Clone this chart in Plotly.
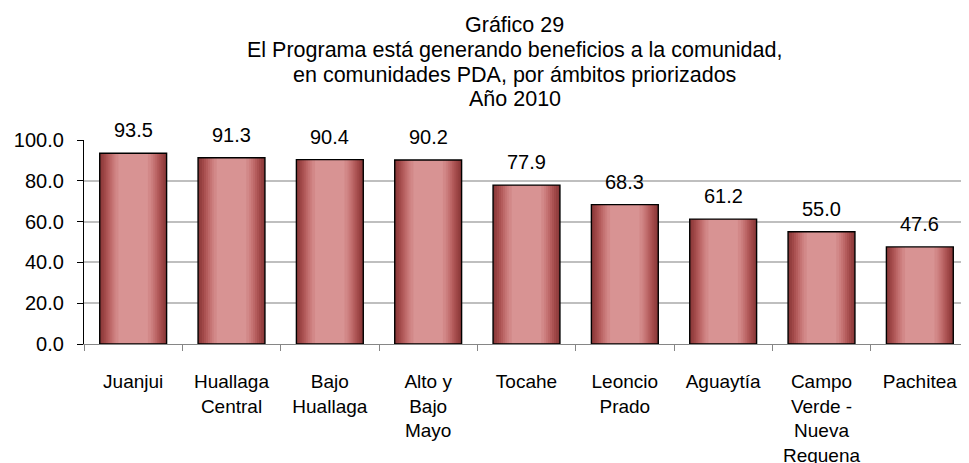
import plotly.graph_objects as go

categories = ["Juanjui", "Huallaga<br>Central", "Bajo<br>Huallaga", "Alto y<br>Bajo<br>Mayo",
              "Tocahe", "Leoncio<br>Prado", "Aguaytía", "Campo<br>Verde -<br>Nueva<br>Requena", "Pachitea"]
values = [93.5, 91.3, 90.4, 90.2, 77.9, 68.3, 61.2, 55.0, 47.6]
y_ticks = [0, 20, 40, 60, 80, 100]
title_lines = ["Gráfico 29",
               "El Programa está generando beneficios a la comunidad,",
               "en comunidades PDA, por ámbitos priorizados",
               "Año 2010"]

# layered bars to imitate the horizontal gradient of the original
layers = [
    (0.68, "#8B3A3A"),
    (0.64, "#954040"),
    (0.60, "#A04848"),
    (0.56, "#AA5252"),
    (0.52, "#B45C5C"),
    (0.48, "#BD6868"),
    (0.44, "#C57373"),
    (0.40, "#CC7E7E"),
    (0.36, "#D28888"),
    (0.30, "#D89393"),
]

fig = go.Figure()
for w, c in layers:
    fig.add_trace(go.Bar(x=categories, y=values, width=w, marker=dict(color=c, line=dict(width=0)),
                         hoverinfo="skip", showlegend=False))
fig.add_trace(go.Bar(x=categories, y=values, width=0.68,
                     marker=dict(color="rgba(0,0,0,0)", line=dict(color="black", width=1.4)),
                     showlegend=False))

annotations = []
for c, v in zip(categories, values):
    annotations.append(dict(x=c, y=v, xref="x", yref="y", text=f"{v:.1f}", showarrow=False,
                            yanchor="middle", yshift=23, font=dict(size=20, color="black")))
title_y = [1.565, 1.4425, 1.320, 1.203]
for t, ty in zip(title_lines, title_y):
    annotations.append(dict(x=0.487, y=ty, xref="paper", yref="paper", text=t, showarrow=False,
                            xanchor="center", yanchor="middle", font=dict(size=21.5, color="black")))

fig.update_layout(
    barmode="overlay",
    width=969, height=463,
    margin=dict(l=76, r=8, t=131.5, b=127),
    paper_bgcolor="white", plot_bgcolor="white",
    font=dict(family="Liberation Sans, Arial, sans-serif", color="black"),
    annotations=annotations,
)
fig.update_yaxes(range=[0, 100], tickvals=y_ticks, tickformat=".1f", showgrid=True, gridcolor="#BFBFBF",
                 gridwidth=1.6, showline=True, linecolor="black", linewidth=1.3, ticks="outside", ticklen=6,
                 tickcolor="black", tickfont=dict(size=20), zeroline=False, ticklabelstandoff=9,
                 automargin=False)
fig.update_xaxes(showline=True, linecolor="#868686", linewidth=1.3, ticks="outside", tickson="boundaries",
                 ticklen=6, tickcolor="#868686", tickfont=dict(size=19), ticklabelstandoff=20,
                 automargin=False)
fig.write_html("out.html")
